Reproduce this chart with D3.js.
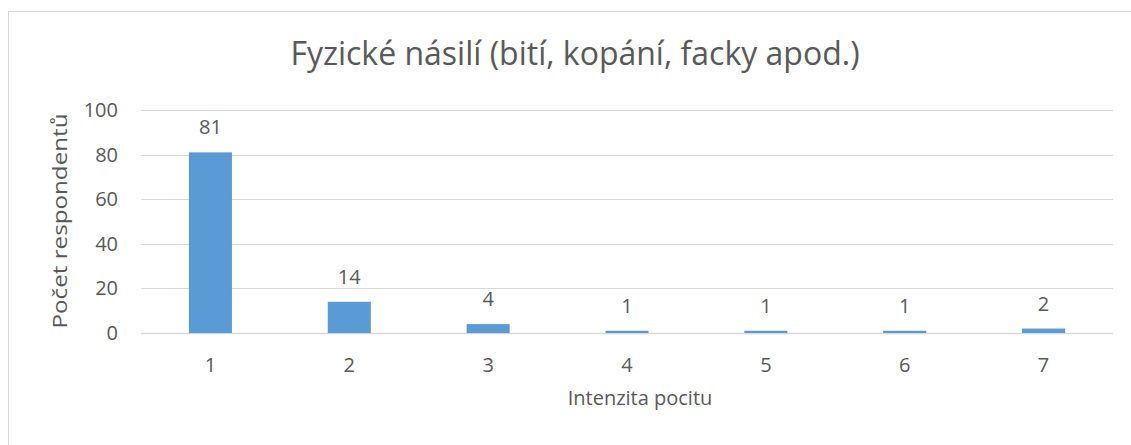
<!DOCTYPE html>
<html>
<head>
<meta charset="utf-8">
<script src="https://cdn.jsdelivr.net/npm/d3@7"></script>
<style>
  body { margin: 0; background: #fff; }
  text { font-family: "Open Sans", sans-serif; fill: #595959; }
</style>
</head>
<body>
<div id="chart"></div>
<script>
const width = 1131;
const height = 445;
const margin = { top: 110, left: 141, right: 18, bottom: 112 };

const categories = ["1", "2", "3", "4", "5", "6", "7"];
const values = [81, 14, 4, 1, 1, 1, 2];
const yTicks = [0, 20, 40, 60, 80, 100];
const title = "Fyzické násilí (bití, kopání, facky apod.)";
const xTitle = "Intenzita pocitu";
const yTitle = "Počet respondentů";

const data = categories.map((c, i) => ({ cat: c, value: values[i] }));

const svg = d3.select("#chart").append("svg")
  .attr("width", width)
  .attr("height", height);

// outer chart border (runs off right/bottom edge)
svg.append("rect")
  .attr("x", 8.5).attr("y", 11.5)
  .attr("width", width).attr("height", height)
  .attr("fill", "none")
  .attr("stroke", "#d9d9d9")
  .attr("stroke-width", 1);

const x = d3.scaleBand()
  .domain(categories)
  .range([margin.left, width - margin.right])
  .paddingInner(0.69)
  .paddingOuter(0.345);

const y = d3.scaleLinear()
  .domain([0, 100])
  .range([height - margin.bottom, margin.top]);

// gridlines
svg.append("g")
  .selectAll("line")
  .data(yTicks)
  .enter().append("line")
  .attr("x1", margin.left)
  .attr("x2", width - margin.right)
  .attr("y1", d => Math.round(y(d)) + 0.5)
  .attr("y2", d => Math.round(y(d)) + 0.5)
  .attr("stroke", "#d9d9d9")
  .attr("stroke-width", d => d === 0 ? 1.5 : 1);

// y tick labels
svg.append("g")
  .selectAll("text")
  .data(yTicks)
  .enter().append("text")
  .attr("x", margin.left - 23)
  .attr("y", d => y(d))
  .attr("dy", "0.35em")
  .attr("text-anchor", "end")
  .style("font-size", "20px")
  .text(d => d);

// bars
svg.append("g")
  .selectAll(".bar")
  .data(data)
  .enter().append("rect")
  .attr("class", "bar")
  .attr("x", d => x(d.cat))
  .attr("y", d => y(d.value))
  .attr("width", x.bandwidth())
  .attr("height", d => y(0) - y(d.value))
  .attr("fill", "#5b9bd5");

// value labels
svg.append("g")
  .selectAll("text")
  .data(data)
  .enter().append("text")
  .attr("x", d => x(d.cat) + x.bandwidth() / 2)
  .attr("y", d => y(d.value) - 18)
  .attr("text-anchor", "middle")
  .style("font-size", "20px")
  .text(d => d.value);

// x tick labels
svg.append("g")
  .selectAll("text")
  .data(categories)
  .enter().append("text")
  .attr("x", d => x(d) + x.bandwidth() / 2)
  .attr("y", y(0) + 39)
  .attr("text-anchor", "middle")
  .style("font-size", "20px")
  .text(d => d);

// titles
svg.append("text")
  .attr("x", 575)
  .attr("y", 65)
  .attr("text-anchor", "middle")
  .style("font-size", "32px")
  .text(title);

svg.append("text")
  .attr("x", 640)
  .attr("y", 405)
  .attr("text-anchor", "middle")
  .style("font-size", "20px")
  .text(xTitle);

svg.append("text")
  .attr("transform", "translate(60,221) rotate(-90)")
  .attr("dy", "0.35em")
  .attr("text-anchor", "middle")
  .attr("textLength", 215)
  .attr("lengthAdjust", "spacingAndGlyphs")
  .style("font-size", "20px")
  .text(yTitle);
</script>
</body>
</html>
